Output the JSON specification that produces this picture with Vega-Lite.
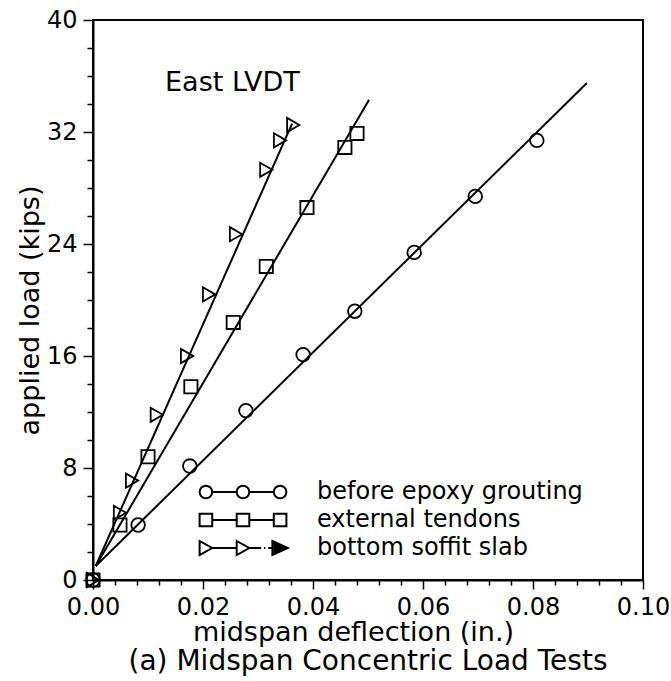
{
  "$schema": "https://vega.github.io/schema/vega-lite/v6.json",
  "width": 550,
  "height": 560,
  "autosize": {"type": "none"},
  "padding": {"left": 93, "top": 20, "right": 28, "bottom": 101},
  "background": "white",
  "title": {
    "text": "(a) Midspan Concentric Load Tests",
    "orient": "bottom",
    "anchor": "middle",
    "font": "DejaVu Sans",
    "fontSize": 28,
    "fontWeight": "normal",
    "color": "black",
    "offset": 3
  },
  "config": {
    "view": {"stroke": "black", "strokeWidth": 2},
    "axis": {
      "grid": false,
      "domainColor": "black",
      "domainWidth": 2,
      "tickColor": "black",
      "tickWidth": 1.5,
      "labelFont": "DejaVu Sans",
      "labelFontSize": 24,
      "labelColor": "black",
      "titleFont": "DejaVu Sans",
      "titleFontSize": 27,
      "titleFontWeight": "normal",
      "titleColor": "black",
      "labelOverlap": false
    },
    "axisX": {"labelOverlap": false},
    "axisQuantitative": {"labelOverlap": false}
  },
  "datasets": {
    "pts": [
      {"series": "before epoxy grouting", "x": 0, "y": 0},
      {"series": "before epoxy grouting", "x": 0.0082, "y": 3.93},
      {"series": "before epoxy grouting", "x": 0.0176, "y": 8.14},
      {"series": "before epoxy grouting", "x": 0.0278, "y": 12.1},
      {"series": "before epoxy grouting", "x": 0.0382, "y": 16.1},
      {"series": "before epoxy grouting", "x": 0.0476, "y": 19.2},
      {"series": "before epoxy grouting", "x": 0.0584, "y": 23.4},
      {"series": "before epoxy grouting", "x": 0.0695, "y": 27.4},
      {"series": "before epoxy grouting", "x": 0.0807, "y": 31.4},
      {"series": "external tendons", "x": 0, "y": 0},
      {"series": "external tendons", "x": 0.0049, "y": 3.93},
      {"series": "external tendons", "x": 0.0100, "y": 8.8},
      {"series": "external tendons", "x": 0.0178, "y": 13.8},
      {"series": "external tendons", "x": 0.0255, "y": 18.4},
      {"series": "external tendons", "x": 0.0315, "y": 22.4},
      {"series": "external tendons", "x": 0.0389, "y": 26.6},
      {"series": "external tendons", "x": 0.0458, "y": 30.9},
      {"series": "external tendons", "x": 0.0480, "y": 31.9},
      {"series": "bottom soffit slab", "x": 0, "y": 0},
      {"series": "bottom soffit slab", "x": 0.0049, "y": 4.8},
      {"series": "bottom soffit slab", "x": 0.0071, "y": 7.1},
      {"series": "bottom soffit slab", "x": 0.0116, "y": 11.8},
      {"series": "bottom soffit slab", "x": 0.0171, "y": 16.0},
      {"series": "bottom soffit slab", "x": 0.0211, "y": 20.4},
      {"series": "bottom soffit slab", "x": 0.0260, "y": 24.7},
      {"series": "bottom soffit slab", "x": 0.0315, "y": 29.3},
      {"series": "bottom soffit slab", "x": 0.0340, "y": 31.4},
      {"series": "bottom soffit slab", "x": 0.0364, "y": 32.5}
    ],
    "fits": [
      {"curve": "before epoxy grouting", "x": 0.0005, "y": 1.0},
      {"curve": "before epoxy grouting", "x": 0.0898, "y": 35.5},
      {"curve": "external tendons", "x": 0.0005, "y": 1.0},
      {"curve": "external tendons", "x": 0.0502, "y": 34.3},
      {"curve": "bottom soffit slab", "x": 0.0005, "y": 1.0},
      {"curve": "bottom soffit slab", "x": 0.0362, "y": 32.6}
    ],
    "notes": [
      {"note": "East LVDT"}
    ]
  },
  "layer": [
    {
      "encoding": {
        "x": {
          "field": "x", "type": "quantitative",
          "scale": {"domain": [0, 0.1], "nice": false, "zero": false},
          "axis": {
            "values": [0, 0.004, 0.008, 0.012, 0.016, 0.02, 0.024, 0.028, 0.032, 0.036, 0.04, 0.044, 0.048, 0.052, 0.056, 0.06, 0.064, 0.068, 0.072, 0.076, 0.08, 0.084, 0.088, 0.092, 0.096, 0.1],
            "format": ".2f",
            "labelExpr": "abs(datum.value*50 - round(datum.value*50)) < 0.000001 ? datum.label : ''",
            "tickSize": {"condition": {"test": "abs(datum.value*50 - round(datum.value*50)) < 0.000001", "value": 9}, "value": 5},
            "labelPadding": 6,
            "labelFlush": false,
            "labelOverlap": false,
            "labelBound": false,
            "title": "midspan deflection (in.)",
            "titleX": 260,
            "titleY": 60,
            "titleBaseline": "alphabetic"
          }
        },
        "y": {
          "field": "y", "type": "quantitative",
          "scale": {"domain": [0, 40], "nice": false},
          "axis": {
            "values": [0, 2, 4, 6, 8, 10, 12, 14, 16, 18, 20, 22, 24, 26, 28, 30, 32, 34, 36, 38, 40],
            "labelExpr": "datum.value % 8 === 0 ? datum.label : ''",
            "tickSize": {"condition": {"test": "datum.value % 8 === 0", "value": 10}, "value": 6},
            "labelPadding": 6,
            "labelFlush": false,
            "labelOverlap": false,
            "labelBound": false,
            "title": "applied load (kips)",
            "titleX": -63,
            "titleY": 290,
            "titleBaseline": "middle",
            "titleAngle": -90
          }
        }
      },
      "layer": [
        {
          "data": {"name": "fits"},
          "mark": {"type": "line", "strokeWidth": 2},
          "encoding": {
            "color": {
              "field": "curve", "type": "nominal",
              "scale": {"domain": ["before epoxy grouting", "external tendons", "bottom soffit slab"], "range": ["black", "black", "black"]},
              "legend": {
                "orient": "none",
                "legendX": 138,
                "legendY": 460,
                "title": null,
                "padding": 0,
                "symbolSize": 196,
                "labelOffset": 62,
                "rowPadding": 4,
                "labelFont": "DejaVu Sans",
                "labelFontSize": 24,
                "labelColor": "black",
                "labelLimit": 400,
                "encode": {
                  "symbols": {
                    "update": {
                      "shape": {"signal": "datum.value === 'before epoxy grouting' ? 'M-6.2,0A0.9,0.9,0,1,0,-4.4,0A0.9,0.9,0,1,0,-6.2,0M-4.4,0L-0.9,0M-0.9,0A0.9,0.9,0,1,0,0.9,0A0.9,0.9,0,1,0,-0.9,0M0.9,0L4.4,0M4.4,0A0.9,0.9,0,1,0,6.2,0A0.9,0.9,0,1,0,4.4,0' : datum.value === 'external tendons' ? 'M-6.2,-0.9H-4.4V0.9H-6.2ZM-4.4,0H-0.9M-0.9,-0.9H0.9V0.9H-0.9ZM0.9,0H4.4M4.4,-0.9H6.2V0.9H4.4Z' : 'M-6.2,-1L-4.4,0L-6.2,1ZM-4.4,0L-0.9,0M-0.9,-1L0.9,0L-0.9,1ZM0.9,0L2.6,0M3.0,0L3.2,0M3.6,0L4.2,0M4.2,-1L6.4,0L4.2,1ZM4.5,-0.55L5.7,0L4.5,0.55ZM4.7,-0.25L5.2,0L4.7,0.25Z'"},
                      "fill": {"value": "transparent"},
                      "stroke": {"value": "black"},
                      "strokeWidth": {"value": 2},
                      "opacity": {"value": 1}
                    }
                  }
                }
              }
            }
          }
        },
        {
          "data": {"name": "pts"},
          "transform": [{"filter": "datum.series === 'before epoxy grouting'"}],
          "mark": {"type": "point", "shape": "circle", "filled": false, "size": 185, "strokeWidth": 1.8, "color": "black", "opacity": 1}
        },
        {
          "data": {"name": "pts"},
          "transform": [{"filter": "datum.series === 'external tendons'"}],
          "mark": {"type": "point", "shape": "square", "filled": false, "size": 175, "strokeWidth": 1.8, "color": "black", "opacity": 1}
        },
        {
          "data": {"name": "pts"},
          "transform": [{"filter": "datum.series === 'bottom soffit slab'"}],
          "mark": {"type": "point", "shape": "triangle-right", "filled": false, "size": 200, "strokeWidth": 1.8, "color": "black", "opacity": 1}
        }
      ]
    },
    {
      "data": {"name": "notes"},
      "mark": {"type": "text", "align": "left", "baseline": "alphabetic", "font": "DejaVu Sans", "fontSize": 27, "color": "black"},
      "encoding": {
        "x": {
          "datum": 0.0131, "type": "quantitative",
          "axis": {
            "values": [0, 0.004, 0.008, 0.012, 0.016, 0.02, 0.024, 0.028, 0.032, 0.036, 0.04, 0.044, 0.048, 0.052, 0.056, 0.06, 0.064, 0.068, 0.072, 0.076, 0.08, 0.084, 0.088, 0.092, 0.096, 0.1],
            "format": ".2f",
            "labelExpr": "abs(datum.value*50 - round(datum.value*50)) < 0.000001 ? datum.label : ''",
            "tickSize": {"condition": {"test": "abs(datum.value*50 - round(datum.value*50)) < 0.000001", "value": 9}, "value": 5},
            "labelPadding": 6,
            "labelFlush": false,
            "labelOverlap": false,
            "labelBound": false,
            "title": "midspan deflection (in.)",
            "titleX": 260,
            "titleY": 60,
            "titleBaseline": "alphabetic"
          }
        },
        "y": {
          "datum": 34.9, "type": "quantitative",
          "axis": {
            "values": [0, 2, 4, 6, 8, 10, 12, 14, 16, 18, 20, 22, 24, 26, 28, 30, 32, 34, 36, 38, 40],
            "labelExpr": "datum.value % 8 === 0 ? datum.label : ''",
            "tickSize": {"condition": {"test": "datum.value % 8 === 0", "value": 10}, "value": 6},
            "labelPadding": 6,
            "labelFlush": false,
            "labelOverlap": false,
            "labelBound": false,
            "title": "applied load (kips)",
            "titleX": -63,
            "titleY": 290,
            "titleBaseline": "middle",
            "titleAngle": -90
          }
        },
        "text": {"field": "note"}
      }
    }
  ]
}
